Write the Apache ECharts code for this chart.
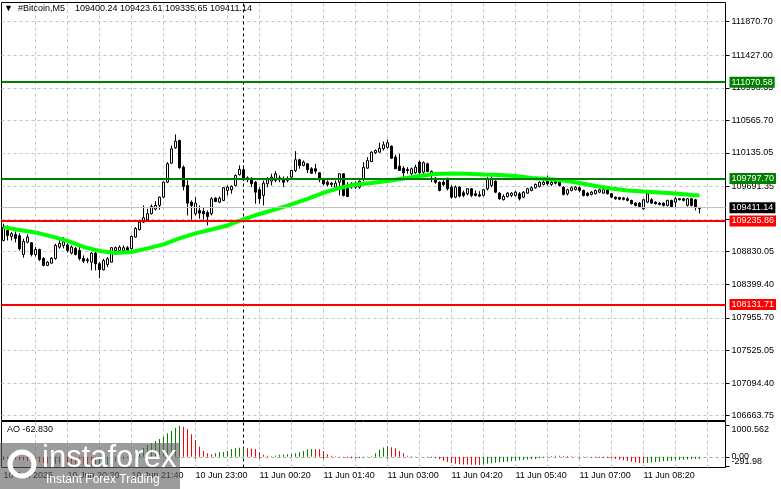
<!DOCTYPE html>
<html><head><meta charset="utf-8">
<script src="https://cdn.jsdelivr.net/npm/echarts@6/dist/echarts.min.js"></script>
<style>html,body{margin:0;padding:0;background:#fff}#c{width:781px;height:489px}</style>
</head><body><div id="c"></div><script>
const symbolName = '#Bitcoin,M5';
const xTickLabels = ['10 Jun 2025','10 Jun 20:20','10 Jun 21:40','10 Jun 23:00','11 Jun 00:20','11 Jun 01:40','11 Jun 03:00','11 Jun 04:20','11 Jun 05:40','11 Jun 07:00','11 Jun 08:20'];
const yTickValues = [111870.70,111427.00,110996.35,110565.70,110135.05,109691.35,109260.70,108830.05,108399.40,107955.70,107525.05,107094.40,106663.75];
const levelGreen = [111070.58, 109797.70];
const levelRed = [109235.86, 108131.71];
const opens = [
108979,109111,109032,109058,109041,108794,108956,108949,108794,108860,
108741,108649,108679,108741,108891,108913,108920,108812,108874,108847,
108741,108724,108692,108812,108671,108592,108662,108692,108847,108847,
108847,108883,108870,109023,109121,109221,109253,109332,109393,109442,
109551,109749,110000,110204,110300,109947,109706,109485,109332,109376,
109365,109349,109332,109538,109485,109508,109640,109649,109706,109847,
109913,109781,109794,109749,109649,109574,109728,109763,109772,109781,
109794,109772,109816,109904,110045,109970,109992,109926,109926,109873,
109781,109749,109736,109683,109749,109860,109706,109683,109683,109683,
109798,109934,110022,110138,110146,110191,110208,110225,110080,109961,
109934,109917,109860,109873,110014,109882,109992,109847,109802,109749,
109749,109802,109683,109551,109683,109609,109596,109662,109596,109583,
109574,109662,109706,109763,109604,109517,109560,109574,109574,109596,
109551,109604,109640,109675,109693,109719,109763,109719,109763,109749,
109683,109596,109640,109649,109675,109640,109604,109587,109596,109617,
109604,109649,109596,109551,109545,109540,109530,109508,109472,109472,
109398,109485,109517,109485,109472,109472,109442,109508,109485,109530,
109530,109442,109530,109517,109400.24];
const highs = [
109200,109177,109089,109098,109072,109002,109059,108957,108891,108870,
108759,108706,108759,108936,109023,109023,108940,108913,108891,108913,
108781,108751,108825,108825,108692,108737,108759,108891,108900,108913,
108913,108904,109045,109155,109253,109442,109398,109455,109498,109560,
109759,110014,110234,110380,110310,109970,109772,109508,109551,109442,
109419,109376,109551,109551,109560,109683,109706,109706,109851,109970,
109970,109825,109816,109763,109683,109772,109816,109860,109895,109838,
109825,109825,109913,110159,110058,110036,109992,109947,109992,109881,
109794,109772,109749,109772,109868,109868,109749,109749,109759,109772,
110014,110080,110155,110181,110270,110287,110313,110234,110111,110124,
109961,109947,109943,109979,110036,110023,110006,109904,109816,109759,
109772,109802,109706,109706,109697,109640,109670,109670,109640,109631,
109662,109816,109825,109772,109617,109587,109617,109617,109631,109617,
109631,109675,109693,109732,109759,109772,109838,109772,109781,109763,
109693,109662,109693,109697,109693,109649,109617,109631,109653,109662,
109666,109662,109604,109560,109556,109551,109551,109517,109485,109485,
109530,109604,109538,109498,109485,109481,109517,109517,109551,109538,
109543,109538,109538,109530,109423.61];
const lows = [
108966,108979,108979,108953,108847,108751,108940,108768,108768,108706,
108636,108640,108671,108724,108870,108874,108821,108794,108781,108715,
108679,108679,108583,108583,108481,108583,108627,108688,108821,108834,
108834,108834,108860,109015,109111,109208,109243,109322,109376,109385,
109538,109736,109992,110191,109926,109640,109309,109253,109309,109266,
109253,109177,109309,109485,109472,109498,109574,109596,109693,109838,
109763,109749,109683,109464,109464,109442,109683,109706,109749,109749,
109683,109746,109794,109881,109926,109957,109868,109860,109860,109749,
109706,109693,109683,109662,109574,109560,109551,109662,109662,109662,
109760,109926,110014,110124,110138,110168,110195,110058,109926,109904,
109794,109860,109838,109860,109860,109860,109881,109749,109728,109627,
109693,109640,109530,109538,109547,109551,109574,109551,109560,109551,
109560,109640,109683,109604,109517,109508,109547,109551,109560,109508,
109538,109596,109627,109662,109680,109706,109706,109697,109719,109693,
109574,109574,109627,109640,109617,109560,109560,109574,109587,109604,
109596,109587,109538,109517,109512,109508,109494,109455,109428,109415,
109385,109472,109464,109455,109442,109428,109428,109415,109419,109508,
109494,109428,109428,109376,109335.65];
const closes = [
109155,109045,109068,109005,108869,108966,109023,108794,108860,108728,
108649,108692,108745,108913,108940,108960,108847,108891,108794,108741,
108706,108712,108812,108671,108592,108715,108737,108883,108883,108891,
108883,108847,109032,109137,109221,109279,109332,109428,109442,109551,
109749,109992,110191,110291,109940,109693,109472,109442,109472,109340,
109332,109296,109530,109494,109538,109675,109683,109693,109838,109917,
109781,109807,109728,109617,109530,109736,109781,109816,109860,109807,
109749,109794,109904,110045,109970,110014,109913,109868,109895,109781,
109728,109719,109719,109736,109860,109574,109560,109728,109736,109763,
109945,110036,110146,110168,110198,110243,110270,110066,109926,109904,
109873,109904,109926,109947,109873,110006,109891,109891,109749,109640,
109719,109662,109551,109683,109565,109574,109662,109574,109574,109565,
109649,109794,109794,109617,109530,109560,109604,109604,109617,109530,
109617,109662,109675,109719,109749,109749,109728,109749,109736,109706,
109587,109649,109675,109683,109640,109574,109574,109617,109640,109649,
109649,109596,109551,109530,109525,109522,109508,109464,109442,109428,
109517,109596,109472,109464,109455,109442,109508,109428,109530,109517,
109508,109530,109442,109419,109411.14];
const maBars = [0,4,8,12,16,20,24,28,32,36,40,44,48,52,56,60,64,68,72,76,80,84,88,92,96,100,104,108,112,116,120,124,128,132,136,140,144,148,152,156,160,164,168,172,174];
const maValues = [109155,109118,109085,109032,108973,108893,108841,108814,108827,108874,108927,109006,109072,109124,109177,109257,109329,109389,109455,109527,109607,109673,109719,109739,109765,109798,109831,109858,109864,109860,109851,109844,109831,109805,109792,109772,109739,109699,109666,109640,109626,109613,109600,109580,109574];
const aoValues = [
-40,-55,-70,-85,-100,-120,-135,-150,-165,-180,
-200,-215,-225,-222,-218,-214,-218,-226,-238,-250,
-262,-272,-280,-291.98,-285,-268,-245,-210,-170,-125,
-80,-30,40,120,218,292,380,433,507,572,
646,755,829,935,1000.562,968,894,724,540,325,
186,112,81,112,145,157,186,251,273,292,
306,273,269,251,145,67,36,16,36,67,
73,81,90,112,145,186,235,251,246,241,
186,81,36,16,6,-22,-34,-45,-47,-39,
-22,-6,16,112,224,302,336,306,273,186,
112,36,16,6,9,3,-11,-28,-34,-78,
-123,-168,-202,-224,-237,-244,-249,-252,-258,-260,
-241,-224,-207,-190,-179,-168,-157,-140,-123,-112,
-103,-90,-78,-71,-50,-29,17,28,36,34,
29,25,20,11,6,-6,-17,-22,-25,-27,
-31,-39,-50,-67,-90,-112,-134,-157,-179,-196,
-209,-196,-185,-168,-157,-146,-134,-123,-112,-103,
-95,-84,-76,-67,-62.83];
const aoTickValues = [0, 1000.562, -291.98];
const aoTickLabels = ['0.00', '1000.562', '-291.98'];
const aoLabelStyles = ['mid', 'top', 'bot'];
const daySeparatorBar = 60;
const nSlots = 181;

const FONT = '"Liberation Sans", Arial, sans-serif';
const categories = Array.from({length: nSlots}, (_, i) => String(i));
const candles = opens.map((o, i) => [o, closes[i], lows[i], highs[i]]);
const last = opens.length - 1;
const gridBars = [];
for (let i = 8; i < nSlots; i += 8) if (i !== daySeparatorBar) gridBars.push(i);
const vLines = gridBars.map(i => ({xAxis: i, lineStyle: {color: '#c4c4c4', type: [3, 3], width: 1}}))
  .concat([{xAxis: daySeparatorBar, lineStyle: {color: '#000', type: [3, 3], width: 1}}]);
const labelIdx = (i) => i % 16 === 0 && (i / 16) < xTickLabels.length;

function levelLine(v, col, bg, w) {
  return {yAxis: v, lineStyle: {color: col, width: w, type: 'solid'},
    label: {show: true, position: 'end', distance: 4, formatter: (p) => Number(p.value).toFixed(2),
      color: '#fff', backgroundColor: bg, fontSize: 9, fontFamily: FONT, padding: [1, 2, 0, 2], lineHeight: 10}};
}
const levelData = []
  .concat(levelGreen.map(v => levelLine(v, '#008000', '#008000', 2)))
  .concat(levelRed.map(v => levelLine(v, '#ff0000', '#ff0000', 2)))
  .concat([levelLine(closes[last], '#c0c0c0', '#000', 1)]);

const chart = echarts.init(document.getElementById('c'), null, {renderer: 'canvas'});
chart.setOption({
  animation: false,
  backgroundColor: '#fff',
  title: [
    {text: '\u25BC  ' + symbolName + '    ' + [opens[last], highs[last], lows[last], closes[last]].map(v => v.toFixed(2)).join(' '),
     left: 4, top: 4, padding: 0, textStyle: {fontSize: 9, fontWeight: 'normal', color: '#000', fontFamily: FONT}},
    {text: 'AO ' + aoValues[last].toFixed(3), left: 7, top: 425, padding: 0,
     textStyle: {fontSize: 9, fontWeight: 'normal', color: '#000', fontFamily: FONT}}
  ],
  grid: [
    {left: 1.5, top: 2.5, width: 724, height: 418, show: true, borderColor: '#000', borderWidth: 1, backgroundColor: '#fff'},
    {left: 1.5, top: 421.5, width: 724, height: 46, show: true, borderColor: '#000', borderWidth: 1, backgroundColor: '#fff'}
  ],
  xAxis: [
    {type: 'category', gridIndex: 0, data: categories, boundaryGap: true,
     axisLine: {show: false}, axisTick: {show: false}, axisLabel: {show: false}, splitLine: {show: false}},
    {type: 'category', gridIndex: 1, data: categories, boundaryGap: true,
     axisLine: {show: false},
     axisTick: {show: true, interval: (i) => labelIdx(i), alignWithLabel: true, length: 3, lineStyle: {color: '#000'}},
     axisLabel: {show: true, interval: (i) => labelIdx(i), formatter: (v, i) => xTickLabels[Number(v) / 16] || '',
       align: 'left', margin: 4, fontSize: 9, color: '#000', fontFamily: FONT, hideOverlap: false},
     splitLine: {show: false}}
  ],
  yAxis: [
    {type: 'value', gridIndex: 0, position: 'right', min: 106600, max: 112123, scale: true,
     axisLine: {show: false},
     axisTick: {show: true, customValues: yTickValues, length: 4, lineStyle: {color: '#000'}},
     axisLabel: {show: true, customValues: yTickValues, formatter: (v) => Number(v).toFixed(2), margin: 6,
       fontSize: 9, color: '#000', fontFamily: FONT, hideOverlap: false},
     splitLine: {show: true, lineStyle: {color: '#c4c4c4', type: [3, 3], width: 1}}},
    {type: 'value', gridIndex: 1, position: 'right', min: -344, max: 1136,
     axisLine: {show: false},
     axisTick: {show: true, customValues: aoTickValues, length: 4, lineStyle: {color: '#000'}},
     axisLabel: {show: true, customValues: aoTickValues, margin: 6, fontSize: 9, color: '#000', fontFamily: FONT,
       hideOverlap: false, showMinLabel: true, showMaxLabel: true,
       formatter: (v) => {
         const k = aoTickValues.findIndex(t => Math.abs(t - Number(v)) < 1e-3);
         return k < 0 ? '' : '{' + aoLabelStyles[k] + '|' + aoTickLabels[k] + '}';
       },
       rich: {
         top: {fontSize: 9, color: '#000', fontFamily: FONT, padding: [7, 0, 0, 0]},
         mid: {fontSize: 9, color: '#000', fontFamily: FONT},
         bot: {fontSize: 9, color: '#000', fontFamily: FONT, padding: [0, 0, 8, 0]}
       }},
     splitLine: {show: false}}
  ],
  series: [
    {type: 'candlestick', name: 'price', xAxisIndex: 0, yAxisIndex: 0, data: candles, barWidth: 3, z: 3,
     itemStyle: {color: '#fff', color0: '#000', borderColor: '#000', borderColor0: '#000', borderWidth: 1},
     markLine: {silent: true, z: 1, symbol: ['none', 'none'], label: {show: false}, data: vLines}},
    {type: 'line', name: 'MA', xAxisIndex: 0, yAxisIndex: 0, data: maBars.map((b, k) => [b, maValues[k]]),
     showSymbol: false, symbol: 'none', lineStyle: {color: '#00ff00', width: 4}, z: 4,
     markLine: {silent: true, z: 5, symbol: ['none', 'none'], data: levelData}},
    {type: 'bar', name: 'AO', xAxisIndex: 1, yAxisIndex: 1, barWidth: 1, z: 3,
     data: aoValues.map((v, i) => ({value: v, itemStyle: {color: (i === 0 || v > aoValues[i - 1]) ? '#008000' : '#ff0000'}})),
     markLine: {silent: true, z: 1, symbol: ['none', 'none'], label: {show: false},
       data: vLines.concat([{yAxis: 0, lineStyle: {color: '#a8a8a8', type: [3, 3], width: 1}}])}}
  ],
  graphic: [
    {type: 'rect', left: 0, top: 443, shape: {width: 180, height: 46}, style: {fill: 'rgba(95,95,95,0.62)'}, z: 100, silent: true},
    {type: 'circle', shape: {cx: 22, cy: 464, r: 12}, style: {fill: 'none', stroke: '#fff', lineWidth: 5}, z: 101, silent: true},
    {type: 'text', left: 42, top: 443, style: {text: 'instaforex', fill: '#fff', font: '31px "Liberation Sans", Arial, sans-serif'}, z: 101, silent: true},
    {type: 'text', left: 46, top: 474, style: {text: 'Instant Forex Trading', fill: '#fff', font: '12px "Liberation Sans", Arial, sans-serif'}, z: 101, silent: true}
  ]
});
</script></body></html>
